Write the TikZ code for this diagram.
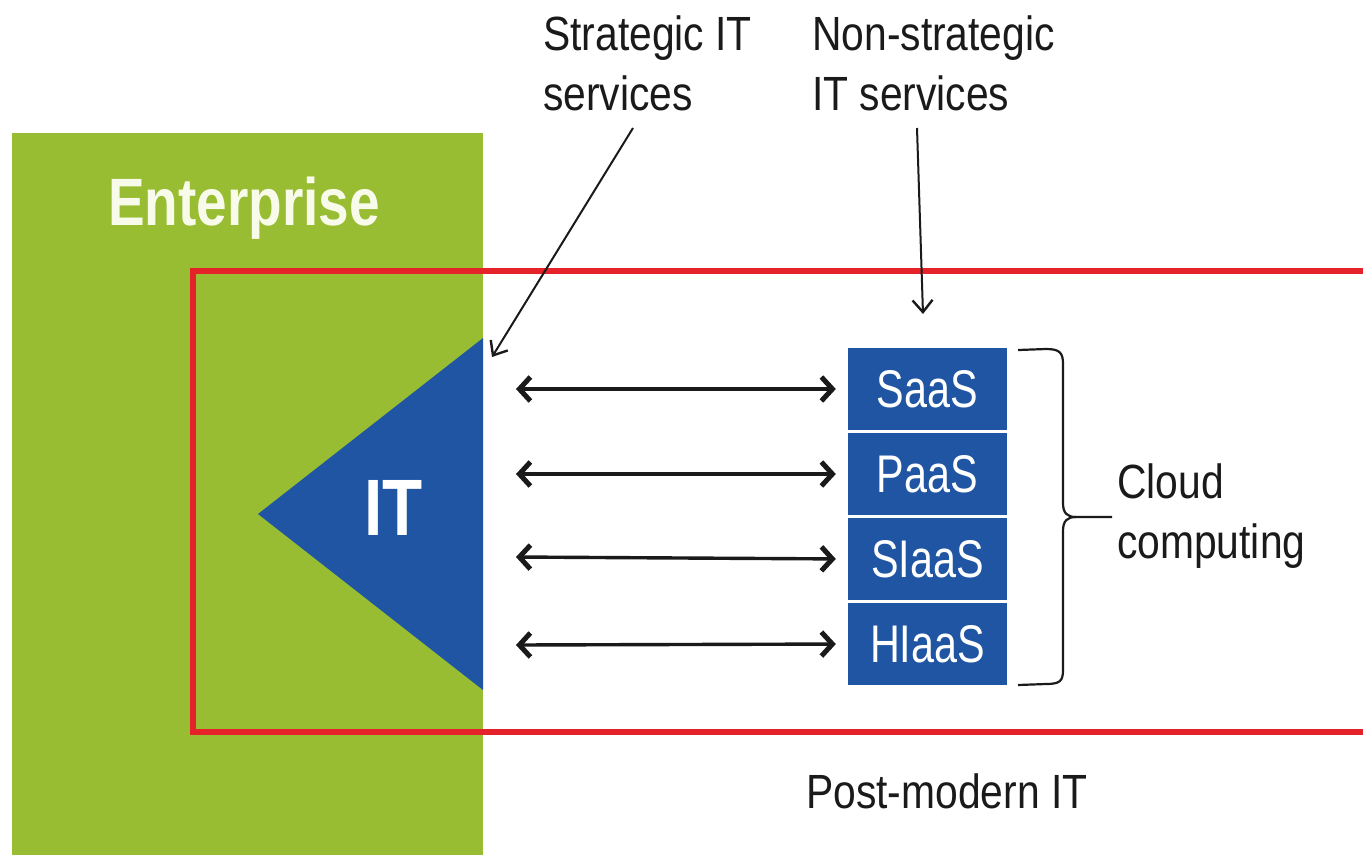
\documentclass[tikz,border=0pt]{standalone}
\usepackage{fontspec}
\setmainfont{Liberation Sans}
\newfontfamily\lblfont[FakeStretch=0.85]{Liberation Sans}
\newfontfamily\boxfont[FakeStretch=0.78]{Liberation Sans}
\newfontfamily\bigfont[FakeStretch=0.82]{Liberation Sans}
\usetikzlibrary{arrows.meta}
\definecolor{entgreen}{HTML}{98BD33}
\definecolor{itblue}{HTML}{1F55A3}
\definecolor{pmred}{HTML}{E52229}
\definecolor{txt}{HTML}{1A1A1A}
\definecolor{enttxt}{HTML}{F8FBEA}
\tikzset{
  lbl/.style={inner sep=0pt, text=txt, font=\lblfont\fontsize{48}{60}\selectfont},
  svcbox/.style={fill=itblue, text=white, inner sep=0pt, minimum width=159pt, minimum height=82pt,
                 font=\boxfont\fontsize{53}{60}\selectfont},
  bartip/.tip={Straight Barb[length=11pt,width=24pt,line width'=5pt]},
  link/.style={draw=txt, line width=3.4pt, bartip-bartip, shorten >=12pt},
  pointer/.style={draw=txt, line width=2pt, -{Straight Barb[length=12pt,width=20pt,line width'=2.4pt]}},
  brace/.style={draw=txt, line width=2.2pt}
}
\begin{document}
\begin{tikzpicture}[x=1pt,y=-1pt]
\useasboundingbox (0,0) rectangle (1363,855);
\fill[white] (0,0) rectangle (1363,855);
% Enterprise block
\fill[entgreen] (12,133) rectangle (483,855);
\node[inner sep=0pt, anchor=base west, text=enttxt, font=\bigfont\bfseries\fontsize{67}{70}\selectfont] (ent) at (108,225) {Enterprise};
% Post-modern IT frame
\begin{scope}
\clip (0,0) rectangle (1363,855);
\draw[pmred, line width=6pt] (1380,271) -- (193,271) -- (193,732) -- (1380,732);
\end{scope}
\node[lbl, anchor=base west] (pm) at (806,808) {Post-modern IT};
% IT triangle
\fill[itblue] (258,514) -- (483,338) -- (483,690) -- cycle;
\node[inner sep=0pt, anchor=base west, text=white, font=\bigfont\bfseries\fontsize{80}{80}\selectfont] (it) at (364,535) {IT};
% services boxes
\node[svcbox] (saas) at (927.5,389) {SaaS};
\node[svcbox] (paas) at (927.5,474) {PaaS};
\node[svcbox] (siaas) at (927.5,559) {SIaaS};
\node[svcbox] (hiaas) at (927.5,644) {HIaaS};
% links
\coordinate (l1) at (516,389);
\coordinate (l2) at (516,474);
\coordinate (l3) at (516,557);
\coordinate (l4) at (516,645);
\draw[link] (l1) -- (saas.west);
\draw[link] (l2) -- (paas.west);
\draw[link] (l3) -- (siaas.west);
\draw[link] (l4) -- (hiaas.west);
% top labels
\node[lbl, anchor=north west, align=left] (strat) at (543,16) {Strategic IT\\services};
\node[lbl, anchor=north west, align=left] (nonstrat) at (812,16) {Non-strategic\\IT services};
\coordinate (s1) at (633,128);
\coordinate (s2) at (492,357);
\coordinate (n1) at (917,128);
\coordinate (n2) at (923,314);
\draw[pointer] (s1) -- (s2);
\draw[pointer] (n1) -- (n2);
% brace
\coordinate (tip) at (1112,517);
\draw[brace] (1018,350) -- (1046,349) .. controls (1060,349) and (1063,353) .. (1063,364)
  -- (1063,503) .. controls (1063,513) and (1067,517) .. (1076,517) -- (tip);
\draw[brace] (1076,517) .. controls (1067,517) and (1063,521) .. (1063,531)
  -- (1063,670) .. controls (1063,681) and (1060,684) .. (1046,684) -- (1018,685);
\node[lbl, anchor=north west, align=left] (cloud) at (1117,464) {Cloud\\computing};
\end{tikzpicture}
\end{document}
